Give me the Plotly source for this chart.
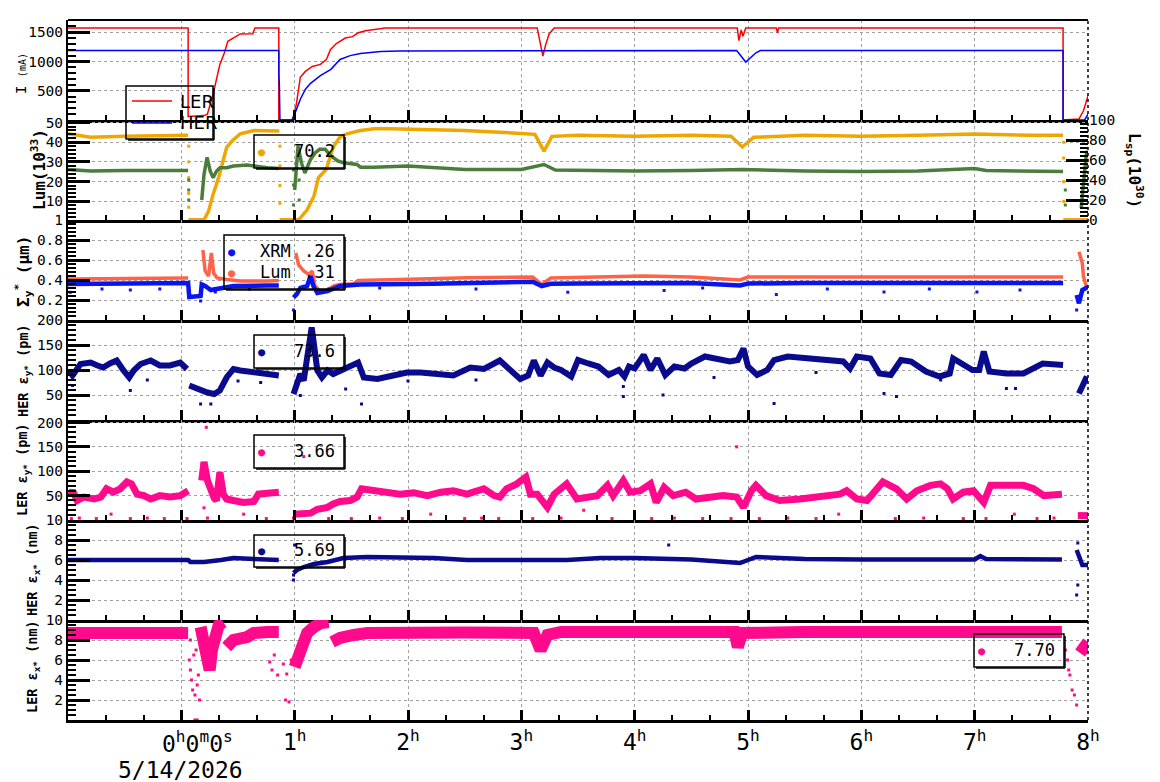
import plotly.graph_objects as go

# ------------------------------------------------------------------ data (hours from 0h, values)
# Panel 1: beam currents (mA)
ler_t = [-1.0, 0.06, 0.06, 0.20, 0.23, 0.28, 0.34, 0.38, 0.41, 0.43, 0.52, 0.63, 0.65, 0.86, 0.86,
         0.98, 1.015, 1.05, 1.094, 1.156, 1.227, 1.28, 1.315, 1.368, 1.447, 1.51, 1.562, 1.624, 1.80,
         3.14, 3.15, 3.19, 3.215, 3.245, 3.29, 4.905, 4.92, 4.94, 4.955, 4.98, 5.25, 5.26, 5.27,
         7.78, 7.78, 7.92, 7.96, 7.98, 8.0]
ler_I = [1573, 1573, 60, 75, 100, 440, 950, 1150, 1345, 1370, 1470, 1475, 1573, 1573, 0,
         0, 270, 730, 830, 915, 950, 1034, 1200, 1305, 1400, 1424, 1490, 1525, 1573,
         1573, 1486, 1090, 1288, 1470, 1573, 1573, 1356, 1540, 1430, 1573, 1573, 1486, 1573,
         1573, 0, 17, 158, 270, 410]
her_t = [-1.0, 0.86, 0.86, 0.865, 0.87, 0.975, 0.99, 1.05, 1.095, 1.14, 1.23, 1.32, 1.40, 1.49, 1.58,
         1.76, 1.93, 4.90, 4.98, 5.07, 5.11, 7.78, 7.78, 7.97, 8.0]
her_I = [1185, 1185, 780, 600, 0, 0, 50, 355, 525, 627, 763, 865, 1034, 1100, 1136,
         1170, 1180, 1185, 990, 1148, 1185, 1185, 0, 0, 100]

# Panel 2: luminosity (10^33, left) and specific luminosity (10^30, right)
lum_t = [-1.0, -0.8, -0.5, -0.2, 0.06, 0.062,
         0.063, 0.20, 0.24, 0.28, 0.33, 0.37, 0.40, 0.45, 0.52, 0.64, 0.76, 0.865, 0.866,
         0.867, 1.035, 1.11, 1.17, 1.21, 1.28, 1.315, 1.345, 1.40, 1.46, 1.58, 1.70, 1.84, 2.0, 2.5,
         3.0, 3.12, 3.2, 3.27, 3.5, 4.0, 4.5, 4.85, 4.95, 5.05, 5.5, 6.0, 6.5, 7.0, 7.5, 7.78, 7.781,
         7.782, 8.0]
lum_v = [44.3, 42.5, 43.0, 43.5, 43.5, None,
         0.6, 0.6, 4.9, 13.5, 22.2, 30.6, 37.4, 40.8, 44.3, 46.0, 45.7, 45.7, None,
         0.6, 0.6, 5.7, 12.6, 22.0, 26.3, 33.0, 38.0, 42.6, 44.3, 46.0, 46.8, 46.8, 46.5, 46.0,
         44.5, 44.0, 35.5, 43.0, 43.5, 43.0, 43.5, 43.0, 37.6, 42.5, 43.5, 43.0, 43.5, 44.2, 43.5, 43.5, None,
         0.6, 0.6]
lum_drop_t = [0.065, 0.065, 0.065, 0.065, 0.065, 0.87, 0.87, 0.87, 0.87, 7.785, 7.785, 7.785, 7.785]
lum_drop_v = [38, 30, 22, 14, 7, 38, 28, 18, 9, 40, 32, 20, 10]
lsp_t = [-1.0, -0.8, -0.5, 0.06, 0.07,
         0.18, 0.19, 0.20, 0.227, 0.255, 0.28, 0.31, 0.34, 0.40, 0.46, 0.58, 0.76, 0.86, 0.87,
         1.0, 1.03, 1.06, 1.09, 1.14, 1.18, 1.22, 1.27, 1.32, 1.38, 1.43, 1.55, 1.58, 1.70, 2.0, 2.5,
         3.0, 3.2, 3.3, 3.5, 4.0, 4.5, 4.95, 5.5, 6.0, 6.5, 7.0, 7.1, 7.78, 7.79,
         7.94, 7.955, 7.97, 7.985, 8.0]
lsp_v = [50.5, 49.0, 49.5, 49.5, None,
         20, 32, 45.5, 62.6, 48.8, 42.4, 48.8, 52.2, 52.2, 54.0, 55.0, 52.2, 51.5, None,
         30, 74, 57, 47, 60.6, 67, 70.7, 70.7, 64, 59, 57.3, 55.5, 52.8, 52.8, 53.9, 50.5,
         50.5, 55.5, 50.0, 49.5, 49.0, 49.5, 50.5, 49.0, 48.5, 49.0, 51.5, 49.5, 48.5, None,
         12, 32, 52, 65.6, 69]
lsp_drop_t = [0.065, 0.065, 0.065, 0.99, 0.99, 0.99, 1.04, 1.04, 7.8, 7.8]
lsp_drop_v = [40, 30, 20, 15, 35, 50, 20, 40, 30, 15]

# Panel 3: vertical beam size (um)
xrm_t = [-1.0, -0.5, 0.0, 0.06, 0.07, 0.12, 0.17, 0.18, 0.21, 0.26, 0.34, 0.46, 0.76, 0.86, 0.9,
         0.99, 1.02, 1.05, 1.11, 1.14, 1.165, 1.20, 1.29, 1.40, 1.58, 2.22, 3.1, 3.18, 3.26, 3.5, 4.0,
         4.5, 4.93, 5.0, 5.5, 6.0, 6.5, 7.0, 7.5, 7.78, 7.85, 7.9, 7.92, 7.95, 8.0]
xrm_v = [0.36, 0.365, 0.37, 0.37, 0.23, 0.24, 0.24, 0.356, 0.34, 0.30, 0.32, 0.34, 0.345, 0.345, None,
         0.225, 0.26, 0.32, 0.34, 0.44, 0.34, 0.27, 0.29, 0.34, 0.356, 0.363, 0.383, 0.34, 0.363, 0.365, 0.365,
         0.37, 0.345, 0.365, 0.37, 0.37, 0.37, 0.37, 0.37, 0.37, None, 0.25, 0.167, 0.30, 0.33]
xrm_out_t = [-0.98, -0.7, -0.45, -0.19, 0.17, 0.3, 0.6, 0.99, 1.3, 1.75, 2.6, 3.41, 4.26, 4.6,
             5.25, 5.7, 6.2, 6.6, 7.02, 7.4, 7.9]
xrm_out_v = [0.277, 0.31, 0.30, 0.31, 0.19, 0.28, 0.31, 0.10, 0.31, 0.32, 0.31, 0.278, 0.295, 0.32,
             0.255, 0.31, 0.28, 0.31, 0.28, 0.30, 0.10]
sig_t = [-1.0, -0.5, 0.0, 0.06, 0.1,
         0.19, 0.21, 0.24, 0.265, 0.285, 0.315, 0.40, 0.52, 0.76, 0.86, 0.9,
         1.01, 1.035, 1.08, 1.125, 1.155, 1.18, 1.225, 1.285, 1.345, 1.40, 1.52, 1.56, 1.93, 2.52,
         3.1, 3.18, 3.26, 3.5, 4.0, 4.08, 4.5, 4.93, 5.0, 5.5, 6.0, 7.0, 7.78, 7.85,
         7.92, 7.95, 7.96, 7.99]
sig_v = [0.41, 0.415, 0.42, 0.42, None,
         0.70, 0.49, 0.44, 0.67, 0.47, 0.42, 0.406, 0.39, 0.39, 0.396, None,
         0.67, 0.55, 0.49, 0.455, 0.49, 0.34, 0.29, 0.297, 0.34, 0.356, 0.363, 0.396, 0.406, 0.423,
         0.43, 0.356, 0.42, 0.425, 0.43, 0.44, 0.43, 0.40, 0.43, 0.43, 0.43, 0.43, 0.43, None,
         0.683, 0.567, 0.433, 0.317]

# Panel 4: HER vertical emittance (pm)
hery_t = [-0.99, -0.96, -0.89, -0.80, -0.74, -0.69, -0.63, -0.57, -0.51, -0.46, -0.42, -0.36, -0.27,
          -0.19, -0.10, -0.01, 0.05, 0.06, 0.07, 0.11, 0.17, 0.23, 0.29, 0.34, 0.40, 0.46, 0.52, 0.64,
          0.76, 0.86, 0.92, 0.99, 1.02, 1.05, 1.08, 1.11, 1.15, 1.17, 1.20, 1.24, 1.29, 1.34, 1.40,
          1.46, 1.52, 1.56, 1.61, 1.73, 1.87, 1.99, 2.11, 2.23, 2.40, 2.55, 2.67, 2.81, 2.90, 2.99,
          3.06, 3.11, 3.17, 3.23, 3.29, 3.35, 3.44, 3.5, 3.59, 3.68, 3.77, 3.86, 3.91, 3.95, 4.0,
          4.08, 4.14, 4.2, 4.27, 4.35, 4.44, 4.5, 4.62, 4.74, 4.84, 4.91, 4.96, 5.0, 5.08, 5.17,
          5.23, 5.35, 5.53, 5.72, 5.84, 5.9, 5.96, 6.08, 6.16, 6.26, 6.35, 6.44, 6.57, 6.69, 6.78,
          6.81, 6.94, 6.98, 7.04, 7.08, 7.13, 7.28, 7.43, 7.6, 7.78, 7.85, 7.92, 7.96, 7.99]
hery_v = [99, 89, 112, 115, 109, 105, 113, 119, 99, 85, 99, 112, 119,
          109, 109, 115, 102, None, 69, 65, 59, 55, 52, 59, 85, 102, 99, 95,
          92, 89, None, 52, 72, 92, 79, 125, 185, 152, 99, 85, 99, 92, 99,
          105, 112, 115, 85, 82, 89, 95, 95, 92, 89, 105, 102, 119, 99, 82,
          89, 119, 89, 115, 105, 100, 87, 120, 113, 107, 90, 100, 87, 107, 103,
          130, 100, 123, 90, 107, 103, 113, 127, 120, 117, 120, 143, 107, 90, 100,
          120, 127, 123, 120, 117, 103, 127, 123, 93, 90, 120, 117, 97, 87, 93,
          123, 107, 100, 100, 137, 97, 93, 93, 113, 110, None, 53, 73, 87]
hery_out_t = [-0.96, -0.45, -0.3, 0.17, 0.26, 0.5, 0.7, 1.05, 1.45, 1.59, 2.0, 2.6, 3.9, 3.9,
              4.25, 4.7, 5.23, 5.6, 6.2, 6.31, 6.7, 7.28, 7.36]
hery_out_v = [69, 59, 80, 32, 32, 78, 75, 49, 62, 32, 78, 80, 67, 47,
              50, 85, 33, 95, 53, 47, 80, 63, 63]

# Panel 5: LER vertical emittance (pm)
lery_t = [-0.99, -0.96, -0.92, -0.86, -0.77, -0.71, -0.66, -0.60, -0.54, -0.48, -0.44, -0.39, -0.33,
          -0.27, -0.19, -0.10, -0.01, 0.06, 0.12, 0.18, 0.20, 0.23, 0.26, 0.29, 0.31, 0.34, 0.37, 0.40,
          0.46, 0.55, 0.64, 0.68, 0.76, 0.86, 0.92, 0.99, 1.05, 1.14, 1.20, 1.29, 1.34, 1.40, 1.49,
          1.55, 1.59, 1.70, 1.81, 1.93, 2.05, 2.17, 2.29, 2.40, 2.52, 2.67, 2.76, 2.81, 2.87, 2.96,
          3.04, 3.08, 3.14, 3.23, 3.29, 3.40, 3.49, 3.58, 3.67, 3.76, 3.81, 3.90, 3.96, 4.05, 4.14,
          4.19, 4.26, 4.34, 4.45, 4.54, 4.66, 4.78, 4.90, 4.96, 5.03, 5.07, 5.16, 5.28, 5.46, 5.63,
          5.81, 5.87, 5.96, 6.05, 6.11, 6.19, 6.31, 6.40, 6.49, 6.61, 6.70, 6.76, 6.81, 6.90, 6.99,
          7.08, 7.14, 7.29, 7.43, 7.52, 7.61, 7.77, 7.85, 7.91, 8.0]
lery_v = [50, 60, 40, 47, 43, 47, 64, 57, 64, 78, 74, 53, 50,
          43, 50, 47, 50, 60, None, 81, 119, 81, 60, 45, 40, 98, 53, 43,
          40, 36, 38, 53, 55, 57, None, 12, 12, 14, 22, 26, 33, 38, 40,
          47, 64, 60, 57, 53, 56, 50, 57, 60, 53, 64, 50, 47, 64, 74,
          88, 53, 53, 26, 53, 74, 43, 47, 50, 71, 50, 81, 57, 60, 74,
          36, 67, 50, 57, 43, 47, 50, 47, 26, 60, 71, 50, 40, 43, 47,
          53, 60, 43, 40, 57, 78, 64, 43, 60, 71, 74, 64, 43, 57, 60,
          36, 71, 71, 71, 64, 50, 53, None, 9, 9]
lery_out_t = [-0.97, -0.9, -0.75, -0.62, -0.45, -0.3, -0.15, 0.05, 0.2, 0.23, 0.55, 0.75, 0.99, 1.3,
              1.5, 1.75, 1.95, 2.2, 2.5, 2.65, 2.8, 3.1, 3.35, 3.55, 3.8, 4.15, 4.35, 4.6, 4.85, 5.1,
              5.35, 5.6, 5.8, 6.0, 6.3, 6.55, 6.9, 7.1, 7.35, 7.55, 7.7, 0.22, 1.08, 4.9]
lery_out_v = [3, 4, 3, 12, 3, 4, 3, 3, 25, 4, 12, 3, 4, 3,
              3, 4, 3, 12, 3, 4, 3, 3, 4, 20, 3, 3, 4, 3, 3, 3,
              4, 3, 12, 3, 3, 4, 3, 3, 12, 3, 4, 190, 130, 150]

# Panel 6: HER horizontal emittance (nm)
herx_t = [-1.0, -0.5, 0.0, 0.06, 0.08, 0.2, 0.35, 0.46, 0.64, 0.76, 0.86, 0.92, 0.99, 1.02, 1.08,
          1.17, 1.29, 1.43, 1.64, 1.93, 2.23, 2.52, 3.11, 3.40, 3.70, 3.99, 4.5, 4.93, 5.07, 5.5,
          6.0, 6.5, 7.0, 7.05, 7.1, 7.77, 7.85, 7.9, 7.93, 7.95, 8.0]
herx_v = [6.0, 6.05, 6.05, 6.0, 5.8, 5.8, 6.0, 6.2, 6.1, 6.0, 6.0, None, 4.7, 5.0, 5.3,
          5.6, 5.8, 6.2, 6.3, 6.3, 6.2, 6.0, 6.0, 6.0, 6.2, 6.2, 6.05, 5.7, 6.3, 6.1,
          6.05, 6.0, 6.05, 6.4, 6.1, 6.05, None, 7.0, 6.0, 5.5, 5.5]
herx_out_t = [0.99, 0.99, 1.0, 4.3, 7.9, 7.91, 7.91]
herx_out_v = [4.0, 4.5, 7.5, 7.5, 2.5, 3.5, 7.7]

# Panel 7: LER horizontal emittance (nm)
lerx_t = [-1.0, -0.5, -0.1, 0.06, 0.1, 0.17, 0.20, 0.23, 0.25, 0.27, 0.30, 0.33, 0.37, 0.385,
          0.40, 0.46, 0.58, 0.64, 0.76, 0.86, 0.92, 1.0, 1.05, 1.11, 1.17, 1.23, 1.30, 1.315,
          1.33, 1.40, 1.52, 1.64, 2.5, 3.11, 3.17, 3.23, 3.35, 4.0, 4.88, 4.91, 4.95, 5.5, 6.0,
          7.0, 7.77, 7.85, 7.93, 8.0]
lerx_v = [8.7, 8.75, 8.6, 8.7, None, 9.3, 7.8, 6.3, 5.0, 7.0, 8.3, 9.5, 9.8, None,
          7.3, 8.0, 8.3, 8.7, 8.8, 8.8, None, 5.3, 7.3, 8.7, 9.3, 9.7, 9.8, None,
          7.8, 8.2, 8.5, 8.7, 8.75, 8.7, 7.0, 8.5, 8.8, 8.8, 8.8, 7.3, 8.7, 8.8, 8.85,
          8.8, 8.8, None, 6.7, 7.8]
lerx_out_t = [0.07, 0.08, 0.09, 0.1, 0.12, 0.13, 0.15, 0.16, 0.08, 0.11, 0.14, 0.78, 0.8, 0.82,
              0.85, 0.9, 0.92, 0.95, 0.97, 0.93, 7.8, 7.82, 7.84, 7.86, 7.83, 7.88, 7.9, 0.12, 0.14]
lerx_out_v = [6.0, 5.0, 4.0, 3.0, 2.5, 7.0, 4.5, 2.0, 8.0, 6.5, 3.5, 5.8, 5.0, 6.5,
              4.5, 5.6, 2.0, 1.8, 6.0, 4.6, 7.0, 6.0, 4.5, 3.0, 5.0, 2.5, 1.5, 0.0, 0.0]

# legend values shown in the boxes
lum_label = "70.2"
xrm_label, sig_label = ".26", ".31"
hery_label, lery_label, herx_label, lerx_label = "73.6", "3.66", "5.69", "7.70"
hour_ticks = list(range(0, 9))

# ------------------------------------------------------------------ layout helpers
W, H = 1160, 782
ML, MR, MT, MB = 68, 72, 20, 62
PW, PH = W - ML - MR, H - MT - MB


def px(x):
    return (x - ML) / PW


def py(y):
    return (H - MB - y) / PH


MONO = "DejaVu Sans Mono"
C_ORANGE = "#eea700"
C_GREEN = "#4a7d3c"
C_TOMATO = "#ff6347"
C_BLUE = "#0a14f0"
C_NAVY = "#0a0a8c"
C_PINK = "#ff0a8c"
GRID = "#a0a0a0"

fig = go.Figure()


def add_line(x, y, xa, ya, color, width):
    fig.add_trace(go.Scatter(x=x, y=y, xaxis=xa, yaxis=ya, mode="lines",
                             line=dict(color=color, width=width), connectgaps=False,
                             showlegend=False, hoverinfo="skip"))


def add_pts(x, y, xa, ya, color, size=3):
    fig.add_trace(go.Scatter(x=x, y=y, xaxis=xa, yaxis=ya, mode="markers",
                             marker=dict(color=color, size=size, symbol="square"),
                             showlegend=False, hoverinfo="skip"))


add_line(ler_t, ler_I, "x", "y", "#ff0000", 1.5)
add_line(her_t, her_I, "x", "y", "#0000ff", 1.5)

add_line(lsp_t, lsp_v, "x2", "y8", C_GREEN, 3.5)
add_pts(lsp_drop_t, lsp_drop_v, "x2", "y8", C_GREEN, 3)
add_line(lum_t, lum_v, "x2", "y2", C_ORANGE, 3.5)
add_pts(lum_drop_t, lum_drop_v, "x2", "y2", C_ORANGE, 3)

add_line(sig_t, sig_v, "x3", "y3", C_TOMATO, 3.5)
add_line(xrm_t, xrm_v, "x3", "y3", C_BLUE, 4.5)
add_pts(xrm_out_t, xrm_out_v, "x3", "y3", C_BLUE, 3)

add_line(hery_t, hery_v, "x4", "y4", C_NAVY, 6)
add_pts(hery_out_t, hery_out_v, "x4", "y4", C_NAVY, 3)
add_line(lery_t, lery_v, "x5", "y5", C_PINK, 7)
add_pts(lery_out_t, lery_out_v, "x5", "y5", C_PINK, 3)
add_line(herx_t, herx_v, "x6", "y6", C_NAVY, 4.5)
add_pts(herx_out_t, herx_out_v, "x6", "y6", C_NAVY, 3)
add_line(lerx_t, lerx_v, "x7", "y7", C_PINK, 12)
add_pts(lerx_out_t, lerx_out_v, "x7", "y7", C_PINK, 3)

# y axis specs: (range, tickvals, ticktext, minor dtick)
yspecs = [
    ([0, 1708], [500, 1000, 1500], None, 100),
    ([0.5, 51.3], [10, 20, 30, 40, 50], None, 2),
    ([0, 1], [0.2, 0.4, 0.6, 0.8, 1.0], ["0.2", "0.4", "0.6", "0.8", "1"], 0.04),
    ([0, 200], [50, 100, 150, 200], None, 10),
    ([0, 205], [50, 100, 150, 200], None, 10),
    ([0, 10], [2, 4, 6, 8, 10], None, 0.5),
    ([0, 10], [2, 4, 6, 8, 10], None, 0.5),
]

layout = dict(width=W, height=H, margin=dict(l=ML, r=MR, t=MT, b=MB),
              paper_bgcolor="white", plot_bgcolor="white", showlegend=False,
              font=dict(family=MONO, size=14, color="black"))

for k in range(7):
    n = "" if k == 0 else str(k + 1)
    dom = [1 - (k + 1) / 7, 1 - k / 7]
    rng, tv, tt, mdt = yspecs[k]
    ya = dict(domain=dom, range=rng, anchor="x" + n, tickmode="array", tickvals=tv,
              ticks="inside", ticklen=22, tickwidth=2.5, tickcolor="black",
              showline=True, linecolor="black", linewidth=2, zeroline=False,
              showgrid=True, gridcolor=GRID, griddash="3px,3px", gridwidth=1,
              tickfont=dict(family=MONO, size=14.5),
              minor=dict(dtick=mdt, tick0=0, ticks="inside", ticklen=8, tickwidth=1.5,
                         tickcolor="black", showgrid=False))
    if tt is not None:
        ya["ticktext"] = tt
    layout["yaxis" + n] = ya
    xa = dict(domain=[0, 1], range=[-1.0, 8.0], anchor="y" + n,
              tickmode="array", tickvals=hour_ticks,
              ticks="inside", ticklen=10, tickwidth=2.5, tickcolor="black",
              showline=True, linecolor="black", linewidth=2.5, zeroline=False,
              showgrid=True, gridcolor=GRID, griddash="3px,3px", gridwidth=1,
              showticklabels=(k == 6),
              minor=dict(dtick=1 / 3, tick0=0, ticks="inside", ticklen=5, tickwidth=1.5,
                         tickcolor="black", showgrid=False))
    if k > 0:
        xa["matches"] = "x"
    if k == 6:
        xa["ticktext"] = [""] + ["%d<sup>h</sup>" % h for h in hour_ticks[1:]]
        xa["tickfont"] = dict(family=MONO, size=23)
    layout["xaxis" + n] = xa

layout["yaxis8"] = dict(domain=[5 / 7, 6 / 7], range=[0, 100], overlaying="y2", side="right",
                        anchor="x2", tickmode="array", tickvals=[0, 20, 40, 60, 80, 100],
                        ticks="inside", ticklen=22, tickwidth=2.5, tickcolor="black",
                        showline=False, zeroline=False, showgrid=False,
                        tickfont=dict(family=MONO, size=14.5),
                        minor=dict(dtick=4, tick0=0, ticks="inside", ticklen=8, tickwidth=1.5,
                                   tickcolor="black", showgrid=False))

fig.update_layout(**layout)

shapes = [
    dict(type="line", xref="paper", yref="paper", x0=0, x1=1, y0=1, y1=1,
         line=dict(color="black", width=2)),
    dict(type="line", xref="paper", yref="paper", x0=1, x1=1, y0=0, y1=1,
         line=dict(color="black", width=1.5, dash="dot")),
]


def box(x0, y0, x1, y1):
    shapes.append(dict(type="rect", xref="paper", yref="paper", x0=px(x0), x1=px(x1),
                       y0=py(y1), y1=py(y0), line=dict(color="black", width=1.5), layer="above"))
    shapes.append(dict(type="line", xref="paper", yref="paper", x0=px(x0 + 2), x1=px(x1 + 1),
                       y0=py(y1 + 1), y1=py(y1 + 1), line=dict(color="black", width=1.5), layer="above"))
    shapes.append(dict(type="line", xref="paper", yref="paper", x0=px(x1 + 1), x1=px(x1 + 1),
                       y0=py(y0 + 2), y1=py(y1 + 1), line=dict(color="black", width=1.5), layer="above"))


box(126, 86, 213, 139)
shapes.append(dict(type="line", xref="paper", yref="paper", x0=px(132), x1=px(172), y0=py(101), y1=py(101),
                   line=dict(color="#ff0000", width=1.5)))
shapes.append(dict(type="line", xref="paper", yref="paper", x0=px(132), x1=px(172), y0=py(123), y1=py(123),
                   line=dict(color="#0000ff", width=1.5)))
box(254, 135, 344, 168)
box(224, 235, 344, 289)
box(254, 335, 344, 368)
box(254, 435, 344, 468)
box(254, 535, 344, 567)
box(974, 634, 1064, 667)
fig.update_layout(shapes=shapes)

ann = []


def text(x, y, s, size=16, color="black", xanchor="center", family=MONO, angle=0):
    ann.append(dict(x=px(x), y=py(y), xref="paper", yref="paper", text=s, showarrow=False,
                    xanchor=xanchor, yanchor="middle", textangle=angle,
                    font=dict(family=family, size=size, color=color)))


# legend texts
text(178, 101, "LER", 18, xanchor="left", family="DejaVu Sans")
text(178, 123, "HER", 18, xanchor="left", family="DejaVu Sans")
text(262, 152, "●", 12, C_ORANGE)
text(337, 151, lum_label, 17, xanchor="right")
text(232, 252, "●", 12, C_BLUE)
text(258, 251, "XRM", 17, xanchor="left")
text(337, 251, xrm_label, 17, xanchor="right")
text(232, 273, "●", 12, C_TOMATO)
text(258, 272, "Lum", 17, xanchor="left")
text(337, 272, sig_label, 17, xanchor="right")
text(262, 352, "●", 12, C_NAVY)
text(337, 351, hery_label, 17, xanchor="right")
text(262, 452, "●", 12, C_PINK)
text(337, 451, lery_label, 17, xanchor="right")
text(262, 551, "●", 12, C_NAVY)
text(337, 550, herx_label, 17, xanchor="right")
text(982, 651, "●", 12, C_PINK)
text(1057, 650, lerx_label, 17, xanchor="right")

# axis titles
text(21, 74, "I <span style='font-size:10px'>(mA)</span>", 14, angle=-90)
text(38, 170, "<b>Lum(10<sup>33</sup>)</b>", 16, angle=-90)
text(23, 272, "<b>Σ<sub>y</sub><sup>*</sup> (μm)</b>", 16, angle=-90)
text(24, 371, "<b>HER ε<sub>y*</sub> (pm)</b>", 13.5, angle=-90)
text(23, 470, "<b>LER ε<sub>y*</sub> (pm)</b>", 13.5, angle=-90)
text(33, 570, "<b>HER ε<sub>x*</sub> (nm)</b>", 13.5, angle=-90)
text(33, 667, "<b>LER ε<sub>x*</sub> (nm)</b>", 13.5, angle=-90)
text(1135, 170, "<b>L<sub>sp</sub>(10<sup>30</sup>)</b>", 16, angle=90)

# time origin label
text(197, 742, "0<sup>h</sup>0<sup>m</sup>0<sup>s</sup>", 23)
text(180, 770, "5/14/2026", 23)

fig.update_layout(annotations=ann)
fig.write_html("out.html")
